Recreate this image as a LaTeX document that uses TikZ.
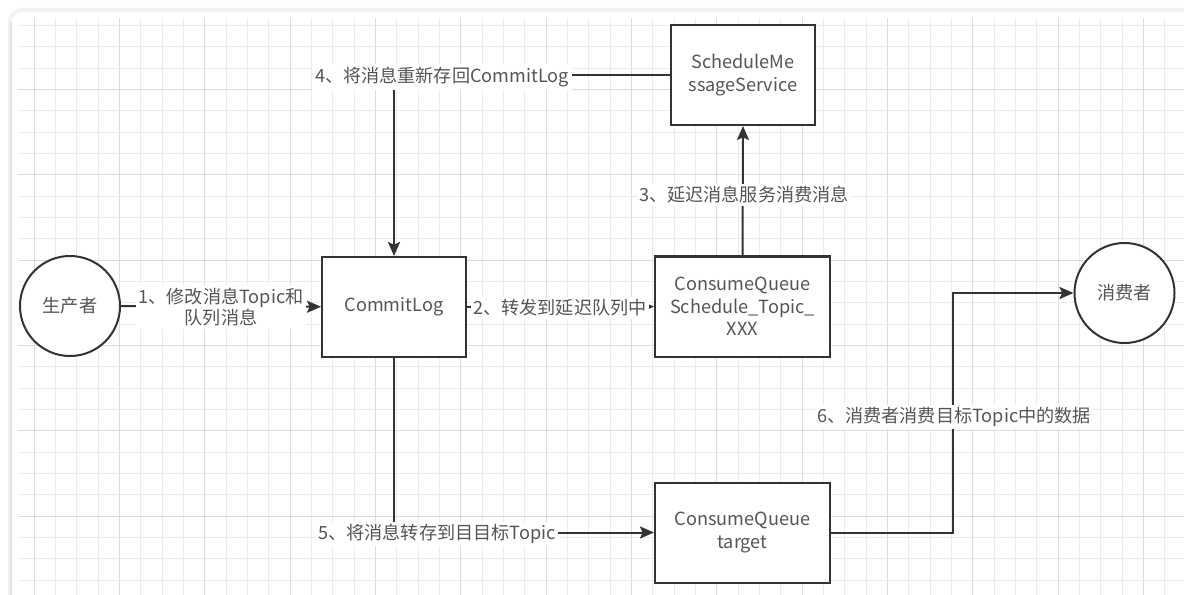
\documentclass[tikz,border=0pt]{standalone}
\usepackage{fontspec}
\setmainfont{Noto Sans CJK SC}
\usetikzlibrary{arrows.meta}
\definecolor{linec}{HTML}{333333}
\definecolor{textc}{HTML}{555555}
\definecolor{gridminor}{HTML}{EBEBEB}
\definecolor{gridmajor}{HTML}{DCDCDC}
\begin{document}
\begin{tikzpicture}[x=0.75pt,y=-0.75pt,
  every node/.style={font=\fontsize{13.6}{17}\selectfont, text=textc},
  boxnode/.style={draw=linec, line width=1.5pt, fill=white, rectangle, minimum height=75pt, align=center, inner sep=0pt},
  circnode/.style={draw=linec, line width=1.5pt, fill=white, circle, minimum size=75pt, inner sep=0pt},
  conn/.style={draw=linec, line width=1.5pt, -{Stealth[length=10.5pt,width=9pt,inset=2pt]}},
  lbl/.style={fill=white, inner sep=2pt, align=center, font=\fontsize{13.6}{16}\selectfont},
  gridmin/.style={draw=gridminor, line width=0.75pt},
  gridmaj/.style={draw=gridmajor, line width=0.75pt}
]
\useasboundingbox (0,0) rectangle (1184,595);
\fill[white] (0,0) rectangle (1184,595);
% panel edge
\draw[gray!10, line width=3pt] (10,595) -- (10,22) arc (180:270:12) -- (1184,10);
\draw[gray!22, line width=1pt] (11,595) -- (11,22);
% grid
\foreach \k in {0,...,53} {
  \pgfmathsetmacro{\gx}{34+21.333*\k}
  \pgfmathtruncatemacro{\m}{mod(\k,4)}
  \ifnum\m=0 \draw[gridmaj] (\gx,18) -- (\gx,595); \else \draw[gridmin] (\gx,18) -- (\gx,595); \fi
}
\foreach \k in {0,...,26} {
  \pgfmathsetmacro{\gy}{25.67+21.333*\k}
  \pgfmathtruncatemacro{\m}{mod(\k+1,4)}
  \ifnum\m=0 \draw[gridmaj] (18,\gy) -- (1184,\gy); \else \draw[gridmin] (18,\gy) -- (1184,\gy); \fi
}
% nodes
\node[circnode] (prod) at (70,306) {生产者};
\node[boxnode, minimum width=108pt] (commit) at (394,307) {CommitLog};
\node[boxnode, minimum width=131.25pt] (cqs) at (742.5,306.5) {ConsumeQueue\\Schedule\_Topic\_\\XXX};
\node[boxnode, minimum width=108pt] (sms) at (743,75) {ScheduleMe\\ssageService};
\node[boxnode, minimum width=131.25pt] (cqt) at (742.5,532.5) {ConsumeQueue\\target};
\node[circnode] (cons) at (1124.5,293) {消费者};
\coordinate (turn6) at (953,0);
% connectors
\draw[conn] (prod) -- (commit);
\draw[conn] (commit) -- (cqs);
\draw[conn] (cqs.north) -- (sms.south);
\draw[conn] (sms.west) -| (commit.north);
\draw[conn] (commit.south) |- (cqt.west);
\draw[conn] (cqt.east) -- (cqt.east -| turn6) |- (cons.west);
% labels
\node[lbl] (l1) at (221,307) {1、修改消息Topic和\\队列消息};
\node[lbl] (l2) at (560,308) {2、转发到延迟队列中};
\node[lbl] (l3) at (744,195) {3、延迟消息服务消费消息};
\node[lbl] (l4) at (442,77) {4、将消息重新存回CommitLog};
\node[lbl] (l5) at (437,534) {5、将消息转存到目目标Topic};
\node[lbl] (l6) at (954,417) {6、消费者消费目标Topic中的数据};
\end{tikzpicture}
\end{document}
